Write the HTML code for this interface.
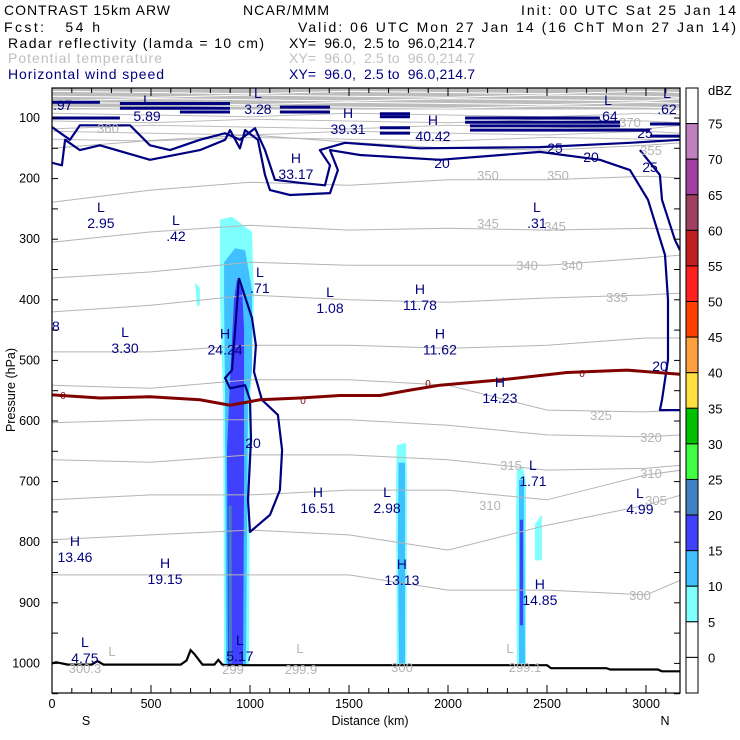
<!DOCTYPE html>
<html><head><meta charset="utf-8"><style>
html,body{margin:0;padding:0;background:#fff;}
svg{display:block;font-family:"Liberation Sans",sans-serif;}
</style></head><body>
<svg id="chart" width="740" height="740" viewBox="0 0 740 740" xmlns="http://www.w3.org/2000/svg">
<g font-size="14" fill="#000">
<text x="4" y="15" textLength="166" lengthAdjust="spacing">CONTRAST 15km ARW</text>
<text x="243" y="15" textLength="86" lengthAdjust="spacing">NCAR/MMM</text>
<text x="521" y="15" textLength="215" lengthAdjust="spacing">Init: 00 UTC Sat 25 Jan 14</text>
<text x="4" y="32" textLength="96" lengthAdjust="spacing" xml:space="preserve">Fcst:   54 h</text>
<text x="298" y="32" textLength="438" lengthAdjust="spacing">Valid: 06 UTC Mon 27 Jan 14 (16 ChT Mon 27 Jan 14)</text>
<text x="8" y="48" textLength="256" lengthAdjust="spacing">Radar reflectivity (lamda = 10 cm)</text>
<text x="289" y="48" textLength="186" lengthAdjust="spacing" xml:space="preserve">XY=  96.0,  2.5 to  96.0,214.7</text>
<text x="8" y="63" textLength="154" lengthAdjust="spacing" fill="#c0c0c0">Potential temperature</text>
<text x="289" y="63" textLength="186" lengthAdjust="spacing" fill="#c0c0c0" xml:space="preserve">XY=  96.0,  2.5 to  96.0,214.7</text>
<text x="8" y="79" textLength="156" lengthAdjust="spacing" fill="#000080">Horizontal wind speed</text>
<text x="289" y="79" textLength="186" lengthAdjust="spacing" fill="#000080" xml:space="preserve">XY=  96.0,  2.5 to  96.0,214.7</text>
</g>
<defs><clipPath id="pc"><rect x="52" y="88" width="628" height="605"/></clipPath></defs>
<g id="plot" clip-path="url(#pc)"></g>
<rect x="52" y="88" width="628" height="605" fill="none" stroke="#000" stroke-width="1.2"/>
<g id="axes" font-size="12.5"></g>
<g id="cbar" font-size="13"></g>
</svg>
<script>
const NS="http://www.w3.org/2000/svg";
// ---------- data ----------
const thetaKm=[0,500,1000,1500,2000,2500,3000,3180];
const thetaLevels=[355,350,345,340,335,330,325,320,315,310,305,300];
const theta355=[150,137,128,140,150,153,145,141];
const theta350=[239,219,206,211,202,202,196,199];
const theta345=[305,288,277,285,282,285,282,285];
const theta340=[364,354,338,343,343,343,331,326];
const theta335=[420,409,392,400,404,397,392,389];
const theta330=[486,486,475,475,480,475,463,463];
const theta325=[541,546,532,532,541,582,585,582];
const theta320=[603,598,598,598,607,623,626,623];
const theta315=[664,668,656,656,664,681,678,673];
const theta310=[730,722,722,714,714,730,689,681];
const theta305=[796,788,780,788,813,772,739,722];
const theta300=[854,854,854,854,879,879,887,862];
const thetaRows=[theta355,theta350,theta345,theta340,theta335,theta330,theta325,theta320,theta315,theta310,theta305,theta300];
const wind20=[[0,174],[50,178],[66,136],[141,153],[242,145],[495,169],[747,153],[874,136],[899,120],[949,150],[975,120],[1040,136],[1076,194],[1101,219],[1202,227],[1404,224],[1444,186],[1404,153],[1555,161],[1959,169],[2464,156],[2767,169],[2919,186],[3010,235],[3096,326],[3111,400],[3111,499],[3081,565],[3070,582],[3171,582]];
const wind25=[[0,115],[91,136],[141,112],[394,112],[495,145],[596,153],[747,136],[874,125],[949,136],[1025,117],[1076,153],[1126,202],[1252,207],[1379,211],[1404,178],[1353,153],[1480,141],[1858,150],[2464,148],[2919,141],[3171,136]];
const wind25b=[[2969,153],[3070,194],[3081,235],[3146,301],[3171,318]];
const windStorm=[[944,364],[1010,430],[1030,475],[1020,519],[1060,565],[1141,590],[1162,648],[1151,714],[1101,755],[1040,772],[1000,783],[990,730],[1005,631],[1000,565],[975,541],[899,546],[874,529],[909,516],[929,433],[944,364]];
const jetStart=[0,343,343,646,1151,1151,1656,1656,2086,2086,2111,2111,3020,3020,1656,1656,0];
const jetEnd=[242,899,899,899,1404,1404,1808,1808,2767,2869,2869,3020,3171,3171,1808,1808,343];
const jetP=[74,76,84,90,82,90,93,98,100,107,113,120,110,130,116,125,100];
const freezing=[[0,557],[242,562],[495,560],[747,565],[899,574],[1050,565],[1252,562],[1454,558],[1656,558],[1808,549],[1959,541],[2272,532],[2601,520],[2904,516],[3171,523]];
const terrainKm=[0,20,80,200,230,260,650,680,700,720,760,820,840,860,880,1000,2500,2520,2800,2820,3060,3080,3200];
const terrainP=[1000,998,1002,1002,996,1002,1002,995,978,985,1002,1002,994,1002,1003,1003,1003,1008,1008,1010,1010,1013,1013];
const dbzLevels=[5,10,15,20];
const refl=[
 [5,[[848,268],[909,263],[1010,288],[1020,400],[1010,516],[1000,565],[995,1003],[869,1003],[864,565],[848,400]]],
 [10,[[869,338],[924,315],[975,318],[1010,384],[1010,516],[990,565],[980,1003],[879,1003],[874,565],[869,400]]],
 [15,[[934,367],[960,384],[970,450],[970,598],[970,681],[965,1003],[889,1003],[884,648],[899,532],[919,400]]],
 [20,[[892,740],[907,740],[909,1000],[894,1000]]],
 [5,[[1742,640],[1788,636],[1793,700],[1790,1003],[1742,1003],[1737,700]]],
 [10,[[1750,669],[1783,669],[1783,1000],[1752,1000],[1747,800]]],
 [5,[[2348,682],[2378,675],[2394,700],[2394,1003],[2348,1003],[2343,750]]],
 [10,[[2358,697],[2384,697],[2389,1000],[2358,1000]]],
 [15,[[2363,763],[2379,763],[2379,937],[2363,937]]],
 [5,[[722,372],[747,380],[747,409],[732,410]]],
 [5,[[2439,770],[2474,755],[2474,830],[2439,830]]]
];
const extremaKm=[480,1040,1495,1924,1232,2808,3106,247,626,2449,1050,1404,1858,369,874,1959,2262,1343,1692,2429,2969,116,571,1767,2464,166,949];
const extremaP=[70,59,92,103,166,70,59,247,268,247,354,387,382,453,456,456,536,717,717,673,719,798,834,836,869,965,961];
const extremaType=["L","L","H","H","H","L","L","L","L","L","L","L","H","L","H","H","H","H","L","L","L","H","H","H","H","L","L"];
const extremaVal=["5.89","3.28","39.31","40.42","33.17",".64",".62","2.95",".42",".31",".71","1.08","11.78","3.30","24.24","11.62","14.23","16.51","2.98","1.71","4.99","13.46","19.15","13.13","14.85","4.75","5.17"];
const xTicks=[0,500,1000,1500,2000,2500,3000];
const yTicks=[100,200,300,400,500,600,700,800,900,1000];
const cbLevels=[75,70,65,60,55,50,45,40,35,30,25,20,15,10,5,0];
const cbColors=["#ffffff","#c080c0","#a040a0","#a04060","#c02020","#ff2020","#ff4000","#ffa040","#ffe040","#00c000","#40ff40","#4080c0","#4040ff","#40c0ff","#80ffff","#ffffff","#ffffff"];
// ---------- scales ----------
const X=km=>52+km*0.198;
const Y=p=>118+(p-100)*0.606;
const colorFor=d=>cbColors[cbColors.length-2-Math.floor(d/5)];
function mk(tag,attrs,parent){const e=document.createElementNS(NS,tag);for(const k in attrs)e.setAttribute(k,attrs[k]);parent.appendChild(e);return e;}
const plot=document.getElementById('plot');
const pts=a=>a.map(q=>X(q[0]).toFixed(1)+','+Y(q[1]).toFixed(1)).join(' ');
let band=mk('rect',{x:52,y:Y(50),width:628,height:Y(86)-Y(50),fill:'#bdbdbd'},plot);


[56,62,68,74,80].forEach((p,i)=>{const l=mk('polyline',{points:pts(thetaKm.map((k,j)=>[k,p+((j+i)%3)*2])),fill:'none',stroke:'#fff','stroke-width':1},plot);

});
[92,102,112,122,132].forEach((p,i)=>{const l=mk('polyline',{points:pts(thetaKm.map((k,j)=>[k,p+((j+i)%3)*3])),fill:'none',stroke:'#bdbdbd','stroke-width':1},plot);

});
refl.forEach(r=>{const e=mk('polygon',{points:pts(r[1]),fill:colorFor(r[0]),stroke:'none'},plot);

});
thetaRows.forEach((row,i)=>{const e=mk('polyline',{points:pts(thetaKm.map((k,j)=>[k,row[j]])),fill:'none',stroke:'#b4b4b4','stroke-width':1},plot);

});
jetP.forEach((p,i)=>{const e=mk('line',{x1:X(jetStart[i]),x2:X(jetEnd[i]),y1:Y(p),y2:Y(p),stroke:'#000080','stroke-width':3},plot);

});
[[wind20,'wind-contour-20'],[wind25,'wind-contour-25'],[wind25b,'wind-contour-25-east'],[windStorm,'wind-contour-storm']].forEach(w=>{const e=mk('polyline',{points:pts(w[0]),fill:'none',stroke:'#000080','stroke-width':2.2,'stroke-linejoin':'round'},plot);

});
let fz=mk('polyline',{points:pts(freezing),fill:'none',stroke:'#800000','stroke-width':3},plot);


let tr=mk('polyline',{points:pts(terrainKm.map((k,i)=>[k,terrainP[i]])),fill:'none',stroke:'#000','stroke-width':2.2},plot);


const gl=[[108,133,'360'],[488,180,'350'],[558,180,'350'],[488,228,'345'],[555,231,'345'],[527,270,'340'],[572,270,'340'],[617,302,'335'],[601,420,'325'],[651,442,'320'],[511,470,'315'],[490,510,'310'],[651,478,'310'],[656,505,'305'],[640,600,'300'],[630,127,'370'],[651,155,'355'],[85,673,'300.3'],[233,674,'299'],[301,674,'299.9'],[402,672,'300'],[525,672,'299.1'],[112,656,'L'],[300,653,'L'],[510,653,'L']];
gl.forEach(g=>{const t=mk('text',{x:g[0],y:g[1],'text-anchor':'middle',fill:'#b4b4b4','font-size':13},plot);t.textContent=g[2];

});
const bl=[[442,168,'20'],[591,162,'20'],[555,153,'25'],[645,138,'25'],[650,172,'25'],[253,448,'20'],[660,371,'20']];
bl.forEach(g=>{const t=mk('text',{x:g[0],y:g[1],'text-anchor':'middle',fill:'#000080','font-size':14},plot);t.textContent=g[2];

});
[[63,399],[303,404],[428,387],[582,377]].forEach(g=>{const t=mk('text',{x:g[0],y:g[1],'text-anchor':'middle',fill:'#800000','font-size':10},plot);t.textContent='0';

});
extremaKm.forEach((k,i)=>{const g=mk('g',{fill:'#000080','font-size':14,'text-anchor':'middle'},plot);


mk('text',{x:X(k),y:Y(extremaP[i])+5},g).textContent=extremaType[i];
mk('text',{x:X(k),y:Y(extremaP[i])+21},g).textContent=extremaVal[i];});
[[53,110,'.97'],[52,331,'8']].forEach(g=>{const t=mk('text',{x:g[0],y:g[1],fill:'#000080','font-size':14},plot);t.textContent=g[2];

});
const ax=document.getElementById('axes');
for(let k=0;k<=3150;k+=100){const len=k%500===0?8:5;
[[693,-1],[88,1]].forEach(s=>{const e=mk('line',{x1:X(k),x2:X(k),y1:s[0],y2:s[0]+s[1]*len,stroke:'#000'},ax);

});}
xTicks.forEach(k=>{const t=mk('text',{x:X(k),y:708,'text-anchor':'middle'},ax);t.textContent=k;

});
for(let p=100;p<=1050;p+=50){[[52,1],[680,-1]].forEach(s=>{const e=mk('line',{x1:s[0],x2:s[0]+s[1]*6,y1:Y(p),y2:Y(p),stroke:'#000'},ax);

});}
yTicks.forEach(p=>{const t=mk('text',{x:40,y:Y(p)+4,'text-anchor':'end'},ax);t.textContent=p;

});
[[86,'S','x-south-label'],[370,'Distance (km)','x-axis-title'],[665,'N','x-north-label']].forEach(a=>{const t=mk('text',{x:a[0],y:725,'text-anchor':'middle'},ax);t.textContent=a[1];

});
const yt=mk('text',{x:0,y:0,'text-anchor':'middle',transform:'translate(15,390) rotate(-90)'},ax);yt.textContent='Pressure (hPa)';


const cb=document.getElementById('cbar');const segH=605/cbColors.length;
cbColors.forEach((c,i)=>{const r=mk('rect',{x:686,y:88+i*segH,width:12,height:segH,fill:c,stroke:'#000','stroke-width':1},cb);

});
cbLevels.forEach((v,i)=>{const t=mk('text',{x:708,y:88+(i+1)*segH+5},cb);t.textContent=v;

});
const du=mk('text',{x:708,y:95},cb);du.textContent='dBZ';


</script>
</body></html>
